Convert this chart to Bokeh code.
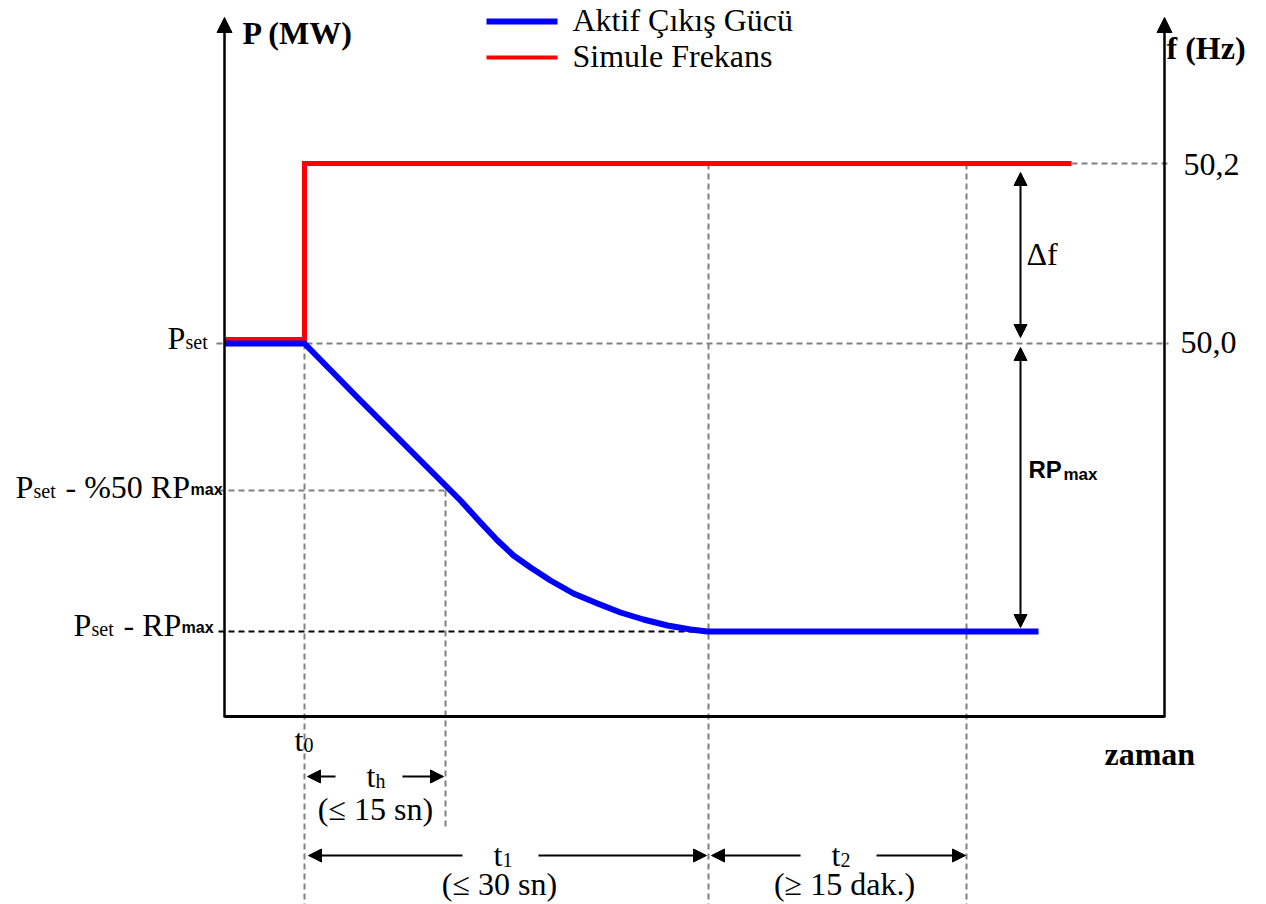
from bokeh.plotting import figure
from bokeh.models import Range1d, Arrow, NormalHead
from bokeh.core.properties import value
from bokeh.embed import file_html
from bokeh.resources import INLINE

# ---- schematic coordinates (drawing units of the diagram) ----
# time markers
T_AXIS0, T0, TH, T1, T2, T_AXIS1 = 224, 304, 445, 708, 966, 1164
# level markers
Y_TOP, F_502, P_SET, P_HALF, P_MIN, Y_BOTTOM = 17, 163, 343, 490, 631, 716

# series
freq_t = [224, 304, 304, 1071]
freq_v = [339, 339, 163, 163]
power_t = [224, 304, 357, 443, 460, 480, 497, 513, 530, 550, 573, 597, 620,
           643, 667, 690, 707, 723, 1038]
power_v = [343, 343, 397, 483, 500, 522, 540, 555, 567, 580, 593, 603, 612,
           619, 625, 629, 631, 631, 631]

SERIF = value("Liberation Serif")
SANS = value("Liberation Sans")

p = figure(width=1266, height=904, output_backend="svg", toolbar_location=None,
           x_range=Range1d(0, 1266), y_range=Range1d(904, 0),
           x_axis_location=None, y_axis_location=None,
           min_border=0, min_border_left=0, min_border_right=0,
           min_border_top=0, min_border_bottom=0)
p.grid.visible = False
p.outline_line_color = None
p.background_fill_color = "white"

GRAY = "#808080"

# dashed guide lines
p.line([1071, 1168], [F_502, F_502], line_color=GRAY, line_width=2, line_dash="6 4")
p.line([216, 1168], [P_SET, P_SET], line_color=GRAY, line_width=2, line_dash="6 4")
p.line([218, TH], [P_HALF, P_HALF], line_color=GRAY, line_width=2, line_dash="6 4")
p.line([218, 705], [P_MIN, P_MIN], line_color="black", line_width=2, line_dash="6 4")
p.line([T0, T0], [P_SET, 904], line_color=GRAY, line_width=2, line_dash="6 4")
p.line([TH, TH], [P_HALF, 826], line_color=GRAY, line_width=2, line_dash="6 4")
p.line([T1, T1], [F_502, 904], line_color=GRAY, line_width=2, line_dash="6 4")
p.line([T2, T2], [F_502, 904], line_color=GRAY, line_width=2, line_dash="6 4")

# series
p.line(freq_t, freq_v, line_color="#ff0000", line_width=5, line_join="miter")
p.line(power_t, power_v, line_color="#0000ff", line_width=6, line_join="round")

# axes
head = dict(size=15, fill_color="black", line_color="black")
p.add_layout(Arrow(end=NormalHead(**head), x_start=T_AXIS0, y_start=Y_BOTTOM + 1,
                   x_end=T_AXIS0, y_end=Y_TOP, line_width=2.5))
p.add_layout(Arrow(end=NormalHead(**head), x_start=T_AXIS1, y_start=Y_BOTTOM + 1,
                   x_end=T_AXIS1, y_end=Y_TOP, line_width=2.5))
p.line([T_AXIS0, T_AXIS1], [Y_BOTTOM, Y_BOTTOM], line_color="black", line_width=3)

# dimension arrows
h2 = dict(size=13, fill_color="black", line_color="black")
p.add_layout(Arrow(start=NormalHead(**h2), end=NormalHead(**h2), x_start=1020, y_start=172,
                   x_end=1020, y_end=337, line_width=2))
p.add_layout(Arrow(start=NormalHead(**h2), end=NormalHead(**h2), x_start=1020, y_start=347,
                   x_end=1020, y_end=627, line_width=2))
# t_h
p.add_layout(Arrow(end=NormalHead(**h2), x_start=335, y_start=776, x_end=307, y_end=776, line_width=2))
p.add_layout(Arrow(end=NormalHead(**h2), x_start=402, y_start=776, x_end=443, y_end=776, line_width=2))
# t_1
p.add_layout(Arrow(end=NormalHead(**h2), x_start=462, y_start=855, x_end=308, y_end=855, line_width=2))
p.add_layout(Arrow(end=NormalHead(**h2), x_start=538, y_start=855, x_end=706, y_end=855, line_width=2))
# t_2
p.add_layout(Arrow(end=NormalHead(**h2), x_start=800, y_start=855, x_end=711, y_end=855, line_width=2))
p.add_layout(Arrow(end=NormalHead(**h2), x_start=876, y_start=855, x_end=965, y_end=855, line_width=2))

# legend (drawn)
p.line([486, 557], [21, 21], line_color="#0000ff", line_width=6)
p.line([486, 557], [57, 57], line_color="#ff0000", line_width=4)

SHIFT = -11


def txt(x, y, s, size, font=SERIF, style="normal", align="left"):
    p.text(x=[x], y=[y], text=[s], text_font=font, text_font_size=f"{size}px",
           text_font_style=style, text_align=align, text_baseline="alphabetic",
           text_color="black", y_offset=SHIFT)


BIG = 32
SUB = 20
txt(572, 30, "Aktif Çıkış Gücü", BIG)
txt(572, 66, "Simule Frekans", BIG)

txt(242, 43, "P (MW)", BIG, style="bold")
txt(1166, 58, "f (Hz)", BIG, style="bold")
txt(1104, 764, "zaman", BIG, style="bold")

txt(1183, 175, "50,2", BIG)
txt(1180, 353, "50,0", BIG)
txt(1026, 264, "Δf", BIG)

txt(1028, 480, "RP", 24, font=SANS, style="bold")
txt(1063, 485, "max", 17, font=SANS, style="bold")

# left labels
txt(167, 348, "P", BIG)
txt(185, 352, "set", SUB)

txt(15, 497, "P", BIG)
txt(33, 501, "set", SUB)
txt(65, 497, "- %50 RP", BIG)
txt(190, 500, "max", 16, font=SANS, style="bold")

txt(73, 635, "P", BIG)
txt(91, 639, "set", SUB)
txt(123, 635, "- RP", BIG)
txt(181, 638, "max", 16, font=SANS, style="bold")

# time labels
txt(294, 750, "t", BIG)
txt(303, 755, "0", SUB)
txt(366, 786, "t", BIG)
txt(375, 791, "h", SUB)
txt(375, 819, "(≤ 15 sn)", BIG, align="center")
txt(493, 865, "t", BIG)
txt(502, 870, "1", SUB)
txt(499, 894, "(≤ 30 sn)", BIG, align="center")
txt(831, 865, "t", BIG)
txt(840, 870, "2", SUB)
txt(844, 894, "(≥ 15 dak.)", BIG, align="center")

open("out.html", "w").write(file_html(p, INLINE))
